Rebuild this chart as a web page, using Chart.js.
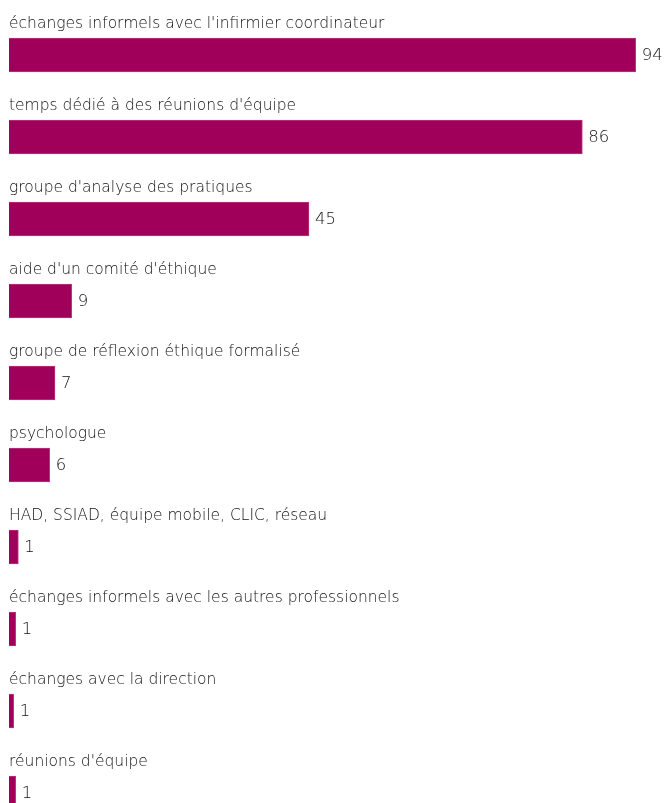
<!DOCTYPE html>
<html>
<head>
<meta charset="utf-8">
<script src="https://cdn.jsdelivr.net/npm/chart.js@4/dist/chart.umd.min.js"></script>
<style>
    html, body { margin: 0; padding: 0; background: #fff; overflow: hidden; }
    #wrap { position: relative; width: 667px; height: 834px; }
</style>
</head>
<body>
<div id="wrap"><canvas id="supportChart"></canvas></div>
<script>
var categories = [
    "échanges informels avec l'infirmier coordinateur",
    "temps dédié à des réunions d'équipe",
    "groupe d'analyse des pratiques",
    "aide d'un comité d'éthique",
    "groupe de réflexion éthique formalisé",
    "psychologue",
    "HAD, SSIAD, équipe mobile, CLIC, réseau",
    "échanges informels avec les autres professionnels",
    "échanges avec la direction",
    "réunions d'équipe"
];
var values = [94, 86, 45, 9.4, 6.9, 6.1, 1.4, 1, 0.7, 1];

var barColor = '#a0005a';
var textColor = '#111111';

// draws the category name above each bar and the value at its end
var barLabels = {
    id: 'barLabels',
    afterDatasetsDraw: function (chart) {
        var ctx = chart.ctx;
        var meta = chart.getDatasetMeta(0);
        var area = chart.chartArea;
        ctx.save();
        meta.data.forEach(function (bar, i) {
            var top = bar.y - bar.height / 2;
            ctx.fillStyle = textColor;
            ctx.font = '200 15.5px "DejaVu Sans", sans-serif';
            ctx.textAlign = 'left';
            ctx.textBaseline = 'alphabetic';
            ctx.fillText(categories[i], area.left, top - 10);

            ctx.font = '200 16.5px "DejaVu Sans", sans-serif';
            ctx.textBaseline = 'middle';
            ctx.fillText(Math.round(values[i]), bar.x + 6, bar.y + 1);
        });
        ctx.restore();
    }
};

new Chart(document.getElementById('supportChart'), {
    type: 'bar',
    data: {
        labels: categories,
        datasets: [{
            data: values,
            backgroundColor: barColor,
            borderColor: '#b8387f',
            borderWidth: 1,
            barThickness: 34
        }]
    },
    options: {
        indexAxis: 'y',
        responsive: true,
        maintainAspectRatio: false,
        animation: false,
        layout: {
            padding: { left: 9, right: 0, top: 14, bottom: 0 }
        },
        scales: {
            x: { display: false, min: 0, max: 98.7 },
            y: { display: false }
        },
        plugins: {
            legend: { display: false },
            tooltip: { enabled: true }
        }
    },
    plugins: [barLabels]
});
</script>
</body>
</html>
